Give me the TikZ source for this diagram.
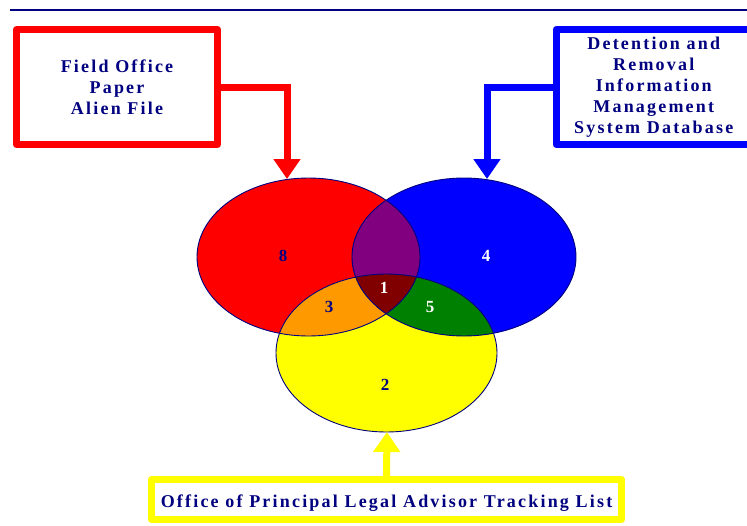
\documentclass[tikz,border=0pt]{standalone}
\usepackage{fontspec}
\setmainfont{Liberation Serif}
\newfontfamily\boxfont[LetterSpace=12.2]{Liberation Serif}
\usetikzlibrary{arrows.meta,shapes.geometric}
\definecolor{navy}{HTML}{000080}
\definecolor{vpurple}{HTML}{800080}
\definecolor{vorange}{HTML}{FF9900}
\definecolor{vgreen}{HTML}{008000}
\definecolor{vmaroon}{HTML}{800000}
\definecolor{vyellow}{HTML}{FFFF00}
\tikzset{
  srcbox/.style={draw=#1, line width=7pt, line join=round, inner sep=0pt, align=center,
    text=navy, font=\boxfont\bfseries\fontsize{18}{21}\selectfont},
  srcarrow/.style={draw=#1, line width=7pt, -{Triangle[width=26pt,length=20pt]}},
  setring/.style={ellipse, draw=navy, line width=0.9pt, inner sep=0pt},
  num/.style={font=\bfseries\fontsize{17}{20}\selectfont, text=#1}
}
\begin{document}
\begin{tikzpicture}[x=1pt,y=-1pt]
\useasboundingbox (0,0) rectangle (747,525);
\fill[white] (0,0) rectangle (747,525);
\draw[navy, line width=2pt] (10,9.5) -- (747,9.5);

% Venn fills
\def\Rpath{(308.5,257) ellipse [x radius=111.5pt, y radius=79pt]}
\def\Bpath{(464,257) ellipse [x radius=112pt, y radius=79pt]}
\def\Ypath{(386.5,353) ellipse [x radius=110.5pt, y radius=79pt]}
\fill[red] \Rpath;
\fill[blue] \Bpath;
\fill[vyellow] \Ypath;
\begin{scope}\clip \Rpath; \fill[vpurple] \Bpath; \end{scope}
\begin{scope}\clip \Rpath; \fill[vorange] \Ypath; \end{scope}
\begin{scope}\clip \Bpath; \fill[vgreen] \Ypath; \end{scope}
\begin{scope}\clip \Rpath; \clip \Bpath; \fill[vmaroon] \Ypath; \end{scope}

% Venn outlines
\node[setring, minimum width=223pt, minimum height=158pt] (R) at (308.5,257) {};
\node[setring, minimum width=224pt, minimum height=158pt] (B) at (464,257) {};
\node[setring, minimum width=221pt, minimum height=158pt] (Y) at (386.5,353) {};

% numbers
\node[num=navy] (n8) at (283,256) {8};
\node[num=white] (n4) at (486,256) {4};
\node[num=white] (n1) at (384,288) {1};
\node[num=navy] (n3) at (329,307) {3};
\node[num=white] (n5) at (430,307) {5};
\node[num=navy] (n2) at (385,385) {2};

% source boxes
\node[srcbox=red, minimum width=201pt, minimum height=115pt] (fo) at (117,87)
  {Field Office\\Paper\\Alien File};
\node[srcbox=blue, minimum width=195.5pt, minimum height=115pt] (dr) at (653.75,87)
  {Detention and\\Removal\\Information\\Management\\System Database};
\node[srcbox=vyellow, minimum width=470pt, minimum height=40pt, text height=16pt, text depth=0pt] (op) at (386.5,499.5)
  {Office of Principal Legal Advisor Tracking List};

% arrow ends
\coordinate (rtip) at (287,179);
\coordinate (btip) at (487,179);
\coordinate (ytip) at (387,432);

\draw[srcarrow=red] (fo.east) -| (rtip);
\draw[srcarrow=blue] (dr.west) -| (btip);
\draw[srcarrow=vyellow] (op.north) -- (ytip);
\end{tikzpicture}
\end{document}
